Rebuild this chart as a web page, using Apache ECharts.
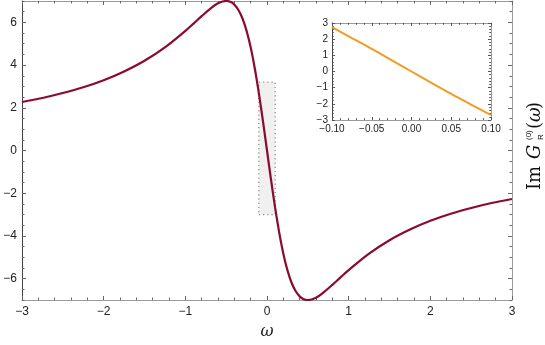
<!DOCTYPE html>
<html>
<head>
<meta charset="utf-8">
<script src="https://cdn.jsdelivr.net/npm/echarts@6/dist/echarts.min.js"></script>
<style>
* { margin: 0; padding: 0; }
html, body { background: #fff; }
#main { width: 545px; height: 345px; }
</style>
</head>
<body>
<div id="main"></div>
<script>
// values
var omega = [-3, -2.75, -2.5, -2.25, -2, -1.75, -1.5, -1.25, -1, -0.9, -0.8, -0.7, -0.6, -0.5, -0.45, -0.4, -0.35, -0.3, -0.25, -0.2, -0.15, -0.1, -0.05, 0,
  0.05, 0.1, 0.15, 0.2, 0.25, 0.3, 0.35, 0.4, 0.45, 0.5, 0.6, 0.7, 0.8, 0.9, 1, 1.25, 1.5, 1.75, 2, 2.25, 2.5, 2.75, 3];
var imG = [2.27, 2.46, 2.69, 2.96, 3.29, 3.70, 4.2, 4.83, 5.6, 5.94, 6.29, 6.62, 6.89, 7.0, 6.96, 6.83, 6.58, 6.18, 5.6, 4.83, 3.85, 2.69, 1.39, 0,
  -1.39, -2.69, -3.85, -4.83, -5.6, -6.18, -6.58, -6.83, -6.96, -7.0, -6.89, -6.62, -6.29, -5.94, -5.6, -4.83, -4.2, -3.70, -3.29, -2.96, -2.69, -2.46, -2.27];
var yTicks = [-6, -4, -2, 0, 2, 4, 6];

var insetOmega = [-0.1, -0.075, -0.05, -0.025, 0, 0.025, 0.05, 0.075, 0.1];
var insetImG = [2.74, 2.07, 1.40, 0.70, 0, -0.70, -1.39, -2.05, -2.70];

var zoomBoxX = [-0.1, 0.1];
var zoomBoxY = [-3, 3.2];

function pairs(xs, ys) {
  return xs.map(function (x, i) { return [x, ys[i]]; });
}
function minus(s) { return String(s).replace('-', '\u2212'); }

var frame = '#9a9a9a';
var tickCol = '#666';
var labelFont = { color: '#222', fontFamily: 'Liberation Sans', fontSize: 12 };

function frameAxis(extra) {
  var base = {
    type: 'value',
    axisLine: { show: true, onZero: false, lineStyle: { color: frame, width: 1 } },
    axisTick: { show: true, inside: true, length: 4, lineStyle: { color: tickCol } },
    minorTick: { show: false },
    axisLabel: { show: false },
    splitLine: { show: false },
    minorSplitLine: { show: false }
  };
  return Object.assign(base, extra);
}

// main y axis: labels/major ticks on even values, minor ticks every 0.5
function mainY(pos, withLabels) {
  return [
    frameAxis({ gridIndex: 0, min: -7, max: 7, interval: 0.5, position: pos,
      axisLine: { show: true, onZero: false, lineStyle: { color: pos === 'left' ? '#444' : frame, width: 1 } },
      axisTick: { show: true, inside: true, length: 4, customValues: yTicks, lineStyle: { color: tickCol } },
      axisLabel: withLabels ? Object.assign({ margin: 5, customValues: yTicks, formatter: minus }, labelFont) : { show: false } }),
    frameAxis({ gridIndex: 0, min: -7, max: 7, interval: 0.5, position: pos,
      axisLine: { show: false, onZero: false },
      axisTick: { show: true, inside: true, length: 2.5, lineStyle: { color: tickCol } } })
  ];
}

var insetTick = { show: true, inside: true, length: 3, lineStyle: { color: '#555' } };
var insetMinor = { show: true, splitNumber: 5, length: 1.8, lineStyle: { color: '#555' } };
var insetLabel = { margin: 4, color: '#222', fontFamily: 'Liberation Sans', fontSize: 10 };

var chart = echarts.init(document.getElementById('main'));

chart.setOption({
  animation: false,
  grid: [
    { left: 22, right: 33, top: 1, bottom: 42 },
    { left: 332, right: 54, top: 23, bottom: 225, backgroundColor: '#fff', show: true, borderWidth: 0, z: 5 }
  ],
  xAxis: [
    frameAxis({ gridIndex: 0, min: -3, max: 3, interval: 1, position: 'bottom',
      minorTick: { show: true, splitNumber: 5, length: 2.5, lineStyle: { color: tickCol } },
      axisLabel: Object.assign({ margin: 6, formatter: minus }, labelFont),
      name: '\u03c9', nameLocation: 'middle', nameGap: 24,
      nameTextStyle: { fontFamily: 'DejaVu Serif', fontStyle: 'italic', fontSize: 16, color: '#222' } }),
    frameAxis({ gridIndex: 0, min: -3, max: 3, interval: 1, position: 'top',
      minorTick: { show: true, splitNumber: 5, length: 2.5, lineStyle: { color: tickCol } } }),
    frameAxis({ gridIndex: 1, min: -0.1, max: 0.1, interval: 0.05, position: 'bottom', z: 6,
      axisTick: insetTick, minorTick: insetMinor,
      axisLabel: Object.assign({ formatter: function (v) { if (Math.abs(v) < 1e-9) v = 0; return minus(v.toFixed(2)); } }, insetLabel) }),
    frameAxis({ gridIndex: 1, min: -0.1, max: 0.1, interval: 0.05, position: 'top', z: 6,
      axisTick: insetTick, minorTick: insetMinor })
  ],
  yAxis: mainY('left', true).concat(mainY('right', false)).concat([
    frameAxis({ gridIndex: 1, min: -3, max: 3, interval: 1, position: 'left', z: 6,
      axisLine: { show: true, onZero: false, lineStyle: { color: '#444', width: 1 } },
      axisTick: insetTick, minorTick: insetMinor,
      axisLabel: Object.assign({ formatter: minus }, insetLabel) }),
    frameAxis({ gridIndex: 1, min: -3, max: 3, interval: 1, position: 'right', z: 6,
      axisTick: insetTick, minorTick: insetMinor })
  ]),
  series: [
    {
      type: 'line', xAxisIndex: 0, yAxisIndex: 0, data: pairs(omega, imG),
      smooth: 0.35, showSymbol: false, z: 3,
      lineStyle: { color: '#8b0a2f', width: 2.2 },
      markArea: {
        silent: true,
        itemStyle: { color: '#f0f0f0', borderColor: '#888', borderWidth: 1.2, borderType: [1.2, 3] },
        data: [[{ coord: [zoomBoxX[0], zoomBoxY[0]] }, { coord: [zoomBoxX[1], zoomBoxY[1]] }]]
      }
    },
    {
      type: 'line', xAxisIndex: 2, yAxisIndex: 4, data: pairs(insetOmega, insetImG),
      smooth: 0.3, showSymbol: false, z: 7,
      lineStyle: { color: '#f29b22', width: 2 }
    }
  ],
  graphic: [
    {
      type: 'group', x: 544, y: 190, rotation: Math.PI / 2,
      children: [
        { type: 'text', x: 0, y: 0, style: { text: 'Im', fontFamily: 'DejaVu Serif', fontSize: 18, fill: '#111', verticalAlign: 'bottom' } },
        { type: 'text', x: 31, y: 0, style: { text: 'G', fontFamily: 'DejaVu Serif', fontStyle: 'italic', fontSize: 18, fill: '#111', verticalAlign: 'bottom' } },
        { type: 'text', x: 50, y: -11, style: { text: '(0)', fontFamily: 'Liberation Sans', fontSize: 8, fill: '#111', verticalAlign: 'bottom' } },
        { type: 'text', x: 50, y: 1, style: { text: 'R', fontFamily: 'Liberation Sans', fontSize: 8, fill: '#111', verticalAlign: 'bottom' } },
        { type: 'text', x: 61, y: 0, style: { text: '(', fontFamily: 'DejaVu Serif', fontSize: 18, fill: '#111', verticalAlign: 'bottom' } },
        { type: 'text', x: 68, y: 0, style: { text: '\u03c9', fontFamily: 'DejaVu Serif', fontStyle: 'italic', fontSize: 18, fill: '#111', verticalAlign: 'bottom' } },
        { type: 'text', x: 81, y: 0, style: { text: ')', fontFamily: 'DejaVu Serif', fontSize: 18, fill: '#111', verticalAlign: 'bottom' } }
      ]
    }
  ]
});
</script>
</body>
</html>
